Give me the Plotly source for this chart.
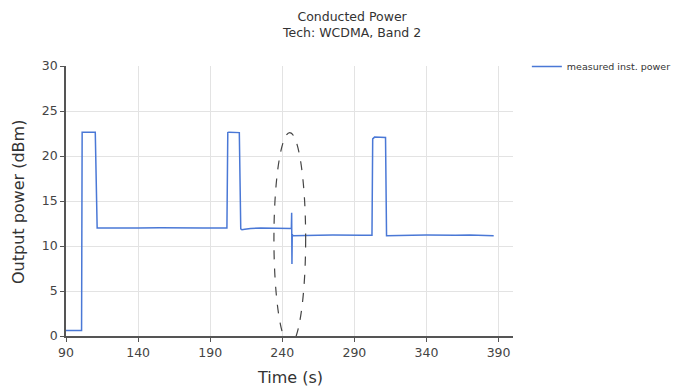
import plotly.graph_objects as go

# Data
time_s = [90, 100.8, 101.2, 110.3, 111.6, 125, 140, 155, 170, 185, 201.6, 202.2, 203, 210.2, 211.2,
          212, 214, 218, 225, 235, 246.3, 246.5, 246.7, 246.9, 247.3, 255, 265, 275, 285, 295,
          302.2, 302.7, 304, 311.6, 312.3, 320, 330, 340, 350, 360, 370, 380, 386.6]
power_dbm = [0.6, 0.6, 22.65, 22.65, 12.0, 11.98, 12.0, 12.02, 11.98, 12.0, 12.0, 22.6, 22.65, 22.6, 11.9,
             11.8, 11.85, 11.95, 12.0, 11.95, 11.95, 13.7, 8.0, 11.3, 11.15, 11.2, 11.2, 11.22, 11.18, 11.2,
             11.2, 21.9, 22.1, 22.05, 11.15, 11.2, 11.2, 11.22, 11.25, 11.2, 11.22, 11.2, 11.15]

x_ticks = [90, 140, 190, 240, 290, 340, 390]
y_ticks = [0, 5, 10, 15, 20, 25, 30]

font_family = "DejaVu Sans"
axis_col = "#555555"

fig = go.Figure()
fig.add_trace(go.Scatter(
    x=time_s, y=power_dbm, mode="lines", name="measured inst. power",
    line=dict(color="#4a78d6", width=1.5),
))

fig.add_shape(type="circle", xref="x", yref="y", x0=234.2, x1=256.2, y0=-1.0, y1=22.6,
              line=dict(color="#444444", width=1.2, dash="dash"), layer="above")

# plot area in screen pixels: left 66, right 513, top 66, bottom 336 (page body has 8px margin)
PW, PH = 447, 270

fig.update_layout(
    width=671, height=382,
    margin=dict(l=58, r=166, t=58, b=54, autoexpand=False),
    paper_bgcolor="white", plot_bgcolor="white",
    font=dict(family=font_family, color="#333333", size=11),
    showlegend=True,
    legend=dict(x=1.031, xanchor="left", y=1.052, yanchor="top",
                font=dict(size=9.5, color="#333333"), bgcolor="rgba(0,0,0,0)",
                itemwidth=30),
    xaxis=dict(range=[90, 400], tickvals=x_ticks, ticktext=[str(v) for v in x_ticks],
               showgrid=True, gridcolor="#e3e3e3", gridwidth=1,
               showline=True, linecolor=axis_col, linewidth=1.5,
               ticks="outside", ticklen=4, tickcolor=axis_col,
               tickfont=dict(size=12.5, color="#444444"), zeroline=False),
    yaxis=dict(range=[0, 30], tickvals=y_ticks, ticktext=[str(v) for v in y_ticks],
               showgrid=True, gridcolor="#e3e3e3", gridwidth=1,
               showline=True, linecolor=axis_col, linewidth=1.5,
               ticks="outside", ticklen=4, tickcolor=axis_col,
               tickfont=dict(size=12.5, color="#444444"), zeroline=False),
    annotations=[
        dict(text="Conducted Power<br>Tech: WCDMA, Band 2", xref="paper", yref="paper",
             x=(351 - 66) / PW, y=1 + (66 - 24.5) / PH, xanchor="center", yanchor="middle",
             showarrow=False, font=dict(size=12.5, color="#333333"), align="center"),
        dict(text="Output power (dBm)", xref="paper", yref="paper", textangle=-90,
             x=-(66 - 18) / PW, y=(336 - 202) / PH, xanchor="center", yanchor="middle",
             showarrow=False, font=dict(size=16, color="#333333")),
        dict(text="Time (s)", xref="paper", yref="paper",
             x=(290 - 66) / PW, y=-(378 - 336) / PH, xanchor="center", yanchor="middle",
             showarrow=False, font=dict(size=16, color="#333333")),
    ],
)

fig.write_html("out.html")
